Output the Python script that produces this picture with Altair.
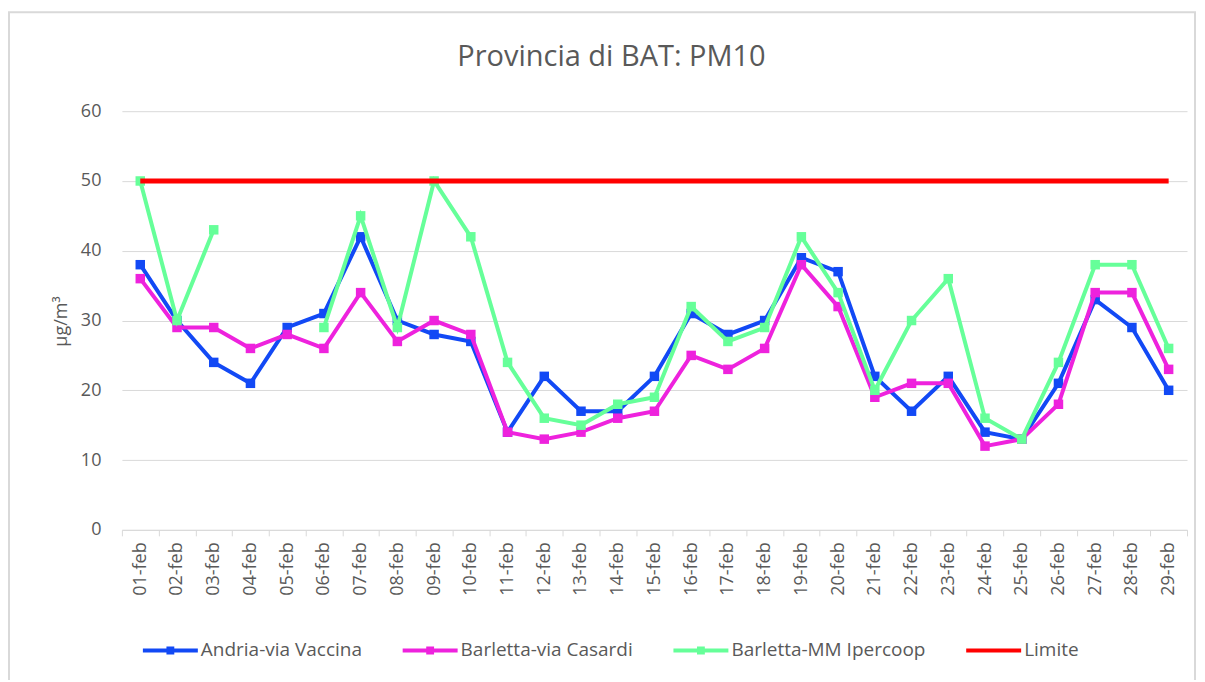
import altair as alt
import pandas as pd

dates = ["01-feb", "02-feb", "03-feb", "04-feb", "05-feb", "06-feb", "07-feb", "08-feb",
         "09-feb", "10-feb", "11-feb", "12-feb", "13-feb", "14-feb", "15-feb", "16-feb",
         "17-feb", "18-feb", "19-feb", "20-feb", "21-feb", "22-feb", "23-feb", "24-feb",
         "25-feb", "26-feb", "27-feb", "28-feb", "29-feb"]
andria = [38, 30, 24, 21, 29, 31, 42, 30, 28, 27, 14, 22, 17, 17, 22, 31, 28, 30, 39, 37,
          22, 17, 22, 14, 13, 21, 33, 29, 20]
casardi = [36, 29, 29, 26, 28, 26, 34, 27, 30, 28, 14, 13, 14, 16, 17, 25, 23, 26, 38, 32,
           19, 21, 21, 12, 13, 18, 34, 34, 23]
ipercoop = [50, 30, 43, None, None, 29, 45, 29, 50, 42, 24, 16, 15, 18, 19, 32, 27, 29, 42, 34,
            20, 30, 36, 16, 13, 24, 38, 38, 26]
limite = [50, 50, 50, 50, 50, 50, 50, 50, 50, 50, 50, 50, 50, 50, 50, 50, 50, 50, 50, 50,
          50, 50, 50, 50, 50, 50, 50, 50, 50]
series_names = ["Andria-via Vaccina", "Barletta-via Casardi", "Barletta-MM Ipercoop", "Limite"]
colors = ["#1249F5", "#EE22DD", "#66FF99", "#FF0000"]
tick_values = [0, 10, 20, 30, 40, 50, 60]
title_text = "Provincia di BAT: PM10"

rows = []
for name, vals in zip(series_names, [andria, casardi, ipercoop, limite]):
    seg = 0
    for d, v in zip(dates, vals):
        if v is None:
            seg += 1
            continue
        rows.append({"date": d, "value": v, "series": name, "seg": seg})
df = pd.DataFrame(rows)

FONT = "Open Sans"
GRAY = "#595959"
GRID = "#d9d9d9"

x = alt.X(
    "date:O", sort=dates,
    scale=alt.Scale(type="band", domain=dates, paddingInner=0, paddingOuter=0),
    bandPosition=0.5,
    axis=alt.Axis(title=None, labelAngle=270, labelFont=FONT, labelFontSize=18,
                  labelColor=GRAY, domainColor=GRID, domainWidth=1, tickColor=GRID,
                  tickSize=6, tickBand="extent", labelPadding=6, grid=False),
)
y = alt.Y(
    "value:Q", scale=alt.Scale(domain=[0, 60]),
    axis=alt.Axis(title="µg/m³", values=tick_values, labelFont=FONT, labelFontSize=18,
                  labelColor=GRAY, domain=False, ticks=False, labelPadding=21,
                  gridColor=GRID, gridWidth=1, titleFont=FONT, titleFontSize=18,
                  titleFontWeight="normal", titleColor=GRAY, titleX=-60, titleY=210,
                  titleAngle=270, titleAlign="center", titleBaseline="middle"),
)

path_marker = "M-1,0H1M-0.07,-0.07H0.07V0.07H-0.07Z"
path_plain = "M-1,0H1"
shape_expr = "datum.value === 'Limite' ? '" + path_plain + "' : '" + path_marker + "'"
leg = alt.Legend(
    title=None, orient="none", legendX=19, legendY=510, direction="horizontal",
    symbolSize=3025, symbolType=alt.ExprRef(expr=shape_expr), symbolStrokeWidth=4,
    symbolOpacity=1, labelFont=FONT, labelFontSize=19, labelColor=GRAY, labelOffset=1,
    columnPadding=32, padding=0, labelLimit=400,
)
color_scale = alt.Scale(domain=series_names, range=colors)
color_enc = alt.Color("series:N", scale=color_scale, legend=leg)

one = pd.DataFrame({"a": [0]})
border = alt.Chart(one).mark_rect(
    filled=False, stroke=GRID, strokeWidth=2
).encode(x=alt.value(-113), x2=alt.value(1074), y=alt.value(-99), y2=alt.value(620))

title = alt.Chart(one).mark_text(
    font=FONT, fontSize=29, color=GRAY, align="center", baseline="middle"
).encode(x=alt.value(490), y=alt.value(-54), text=alt.value(title_text))

layers = [border, title]
for name in series_names:
    base = alt.Chart(df).transform_filter(alt.datum.series == name)
    sw = 5 if name == "Limite" else 4
    layers.append(base.mark_line(strokeWidth=sw).encode(x=x, y=y, detail="seg:N", color=color_enc))
    if name != "Limite":
        layers.append(base.mark_square(size=90, opacity=1).encode(x=x, y=y, color=color_enc))

chart = alt.layer(*layers).properties(
    width=1066, height=419,
    autosize="none",
    padding={"left": 114, "top": 103, "right": 10, "bottom": 150},
).configure_view(stroke=None)

chart.save("out.html", embed_options={"renderer": "svg", "actions": False})
